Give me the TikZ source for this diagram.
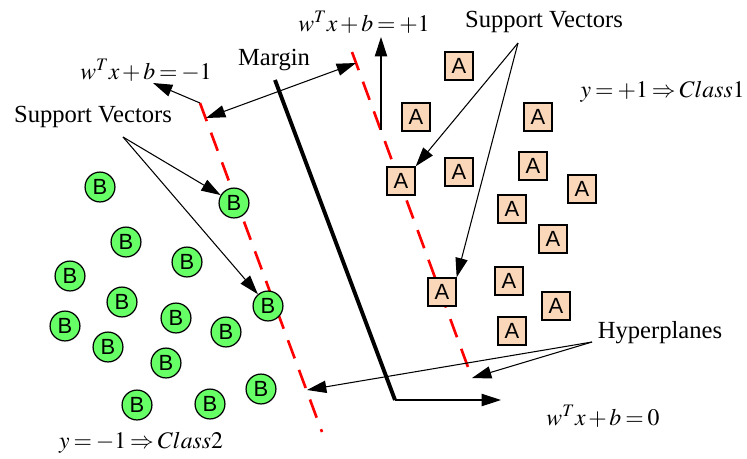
\documentclass[tikz,border=0pt]{standalone}
\usepackage{mathptmx}
\usepackage{fontspec}
\setmainfont{Liberation Serif}
\newfontfamily\arialfont{Liberation Sans}
\usetikzlibrary{arrows.meta}
\definecolor{bgreen}{RGB}{102,255,102}
\definecolor{apeach}{RGB}{250,215,185}
\newcommand\tighteq{\medmuskip=2mu\relax\thickmuskip=3mu\relax}
\tikzset{
    classb/.style={circle,draw,line width=0.7pt,fill=bgreen,minimum size=17pt,inner sep=0pt,font=\arialfont\fontsize{12.5}{12}\selectfont},
    classa/.style={rectangle,draw,line width=0.7pt,fill=apeach,minimum size=16pt,inner sep=0pt,font=\arialfont\fontsize{12.5}{12}\selectfont},
    tip/.tip={Triangle[length=11pt,width=7pt]},
    ptr/.style={-tip,line width=0.6pt},
    hplane/.style={red,line width=1.5pt,dash pattern=on 11pt off 7pt},
    lbl/.style={font=\fontsize{14}{16}\selectfont,inner sep=0pt},
    eqlbl/.style={font=\fontsize{13.5}{16}\selectfont,inner sep=0pt,execute at begin node=\tighteq}
}
\begin{document}
\begin{tikzpicture}[x=0.02cm,y=-0.02cm]
        \useasboundingbox (0,0) rectangle (747,458);
        % line
        \coordinate (lm1) at (200,103);\coordinate (lm2) at (322,432);
        \coordinate (lp1) at (352,52);\coordinate (lp2) at (472,378);
        \coordinate (h1) at (275,80);\coordinate (h2) at (395,400);
        \draw [hplane] (lm1) -- (lm2);
        \draw [hplane] (lp1) -- (lp2);
        \draw [line width=2.2pt] (h1) -- (h2);
        % points
        \foreach \px/\py [count=\i] in {100/187,234/203,126/242,187/262,70/276,122/302,176/318,268/306,65/326,226/332,108/347,166/363,137/405,210/404,261/389}
            \node [classb] (b\i) at (\px,\py) {B};
        \foreach \px/\py [count=\i] in {459/66,416/117,538/117,459/172,401/181,533/166,582/189,512/209,553/239,442/292,509/281,556/306,512/331}
            \node [classa] (a\i) at (\px,\py) {A};
        % lecter
        \node [lbl] (margin) at (274,60) {Margin};
        \node [eqlbl] (eqm) at (146,70) {$w^T x+b=-1$};
        \node [eqlbl] (eqp) at (364,22) {$w^T x+b=+1$};
        \node [eqlbl] (eqz) at (603,416) {$w^T x+b=0$};
        \node [lbl] (svl) at (93,117) {Support Vectors};
        \node [lbl] (svr) at (544,22) {Support Vectors};
        \node [lbl] (hyp) at (660,333) {Hyperplanes};
        \node [eqlbl,anchor=east] (cls1) at (745,92) {$y=+1\Rightarrow Class1$};
        \node [eqlbl] (cls2) at (141,443) {$y=-1\Rightarrow Class2$};
        % arrows
        \coordinate (mgl) at (206,118);\coordinate (mgr) at (356,63);
        \coordinate (eqmt) at (153,83);\coordinate (eqpb) at (381,130);\coordinate (eqpt) at (381,37);
        \coordinate (eqzt) at (501,400);
        \coordinate (svlf) at (123,137);\coordinate (svrf) at (518,43);
        \coordinate (hypf) at (592,342);\coordinate (hypl) at (307,390);
        \draw [ptr,tip-tip] (mgl) -- (mgr);
        \draw [ptr] (lm1) -- (eqmt);
        \draw [ptr] (eqpb) -- (eqpt);
        \draw [ptr] (h2) -- (eqzt);
        \draw [ptr] (svlf) -- (b2);\draw [ptr] (svlf) -- (b8);
        \draw [ptr] (svrf) -- (a5.north east);\draw [ptr] (svrf) -- (a10.north east);
        \draw [ptr] (hypf) -- (lp2);\draw [ptr] (hypf) -- (hypl);
    \end{tikzpicture}
\end{document}
